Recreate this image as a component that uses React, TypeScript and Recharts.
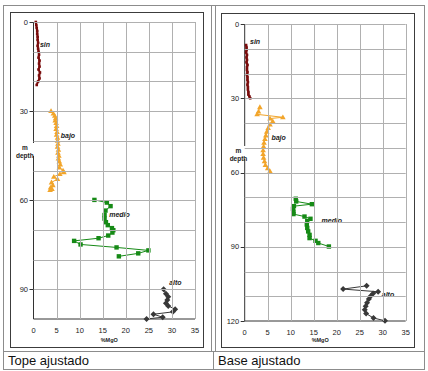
import React from 'react';
import { ScatterChart, Scatter, XAxis, YAxis } from 'recharts';

const FONT = '"Liberation Sans", Arial, Helvetica, sans-serif';

type Pair = [number, number]; // [%MgO, depth m]

const mgoTicks = [0, 5, 10, 15, 20, 25, 30, 35];
const topeDepthTicks = [0, 10, 20, 30, 40, 50, 60, 70, 80, 90, 100];
const baseDepthTicks = [0, 10, 20, 30, 40, 50, 60, 70, 80, 90, 100, 110, 120];
const labelledDepths = [0, 30, 60, 90, 120];

// Tope ajustado
const topeSin: Pair[] = [
  [0.5, 0], [0.6, 1], [0.7, 2], [0.8, 3], [0.8, 4], [0.9, 5], [0.9, 6], [1.0, 7], [0.9, 8], [1.0, 9], [1.1, 10],
  [1.2, 11], [1.1, 12], [1.3, 13], [1.2, 14], [1.3, 15], [1.1, 16], [1.4, 17], [1.2, 18], [1.3, 19], [1.0, 20], [0.7, 21.2],
];
const topeBajo: Pair[] = [
  [3.8, 30], [4.3, 30.8], [4.6, 31.6], [4.8, 32.4], [4.7, 33.2], [4.9, 34], [5.0, 35], [4.9, 36], [5.1, 37], [5.0, 38],
  [5.2, 39], [5.2, 40], [5.3, 41], [5.2, 42], [5.4, 43], [5.3, 44], [5.5, 45], [5.4, 46], [5.6, 47], [5.8, 48], [5.6, 49],
  [6.4, 50], [6.6, 50.6], [5.7, 51.2], [4.4, 52.1], [5.2, 52.9], [3.9, 54], [4.2, 55], [3.7, 55.7], [4.0, 56.2], [3.6, 56.6],
];
const topeMedio: Pair[] = [
  [13.2, 59.9], [15.9, 60.8], [16.7, 62], [15.6, 63.5], [15.4, 65], [15.4, 66.2], [15.7, 67.4], [16.1, 68.4], [17.0, 69.4],
  [17.3, 70.1], [17.1, 70.9], [16.2, 71.9], [14.1, 72.8], [8.8, 73.7], [10.2, 74.9], [18.0, 75.9], [24.9, 76.9], [22.7, 77.9], [18.5, 78.9],
];
const topeAlto: Pair[] = [
  [28.2, 90], [28.7, 91.5], [29.2, 92.5], [29.0, 93.6], [28.7, 94.7], [29.2, 95.6], [30.7, 96.7], [30.2, 97.6], [26.0, 98.4], [28.0, 99.4], [24.5, 100],
];

// Base ajustado
const baseSin: Pair[] = [
  [0.3, 8.5], [0.4, 9.5], [0.4, 10.5], [0.3, 11.5], [0.5, 12.5], [0.4, 13.5], [0.5, 14.5], [0.4, 15.5], [0.6, 16.5], [0.5, 17.5],
  [0.5, 18.5], [0.6, 19.5], [0.5, 20.5], [0.6, 21.5], [0.6, 22.5], [0.7, 23.5], [0.6, 24.5], [0.7, 25.5], [0.7, 26.5], [0.8, 27.5],
  [0.8, 28.5], [1.0, 29.2], [1.2, 30],
];
const baseBajo: Pair[] = [
  [3.3, 33.6], [3.0, 35.4], [2.7, 36.5], [8.3, 37.7], [5.5, 38.2], [6.1, 39.3], [5.5, 40.6], [5.1, 42], [4.8, 43.5], [4.6, 45],
  [4.4, 46.5], [4.2, 48], [4.1, 49.5], [4.0, 51], [4.0, 52.5], [4.1, 54], [4.3, 55.5], [4.5, 57], [5.0, 58.3], [5.5, 59.5],
];
const baseMedio: Pair[] = [
  [11.1, 70.6], [11.2, 71.7], [14.6, 72.8], [10.7, 73.6], [10.5, 74.7], [10.6, 75.8], [10.6, 76.8], [13.0, 77.8], [14.3, 78.7],
  [13.6, 79.6], [13.5, 81.0], [13.6, 82.4], [13.8, 83.8], [14.1, 85.2], [14.1, 86.5], [15.4, 87.6], [16.0, 88.5], [18.3, 89.9],
];
const baseAlto: Pair[] = [
  [26.5, 105.8], [21.4, 107.1], [29.0, 108.2], [27.9, 108.9], [27.4, 109.9], [27.0, 111.1], [26.6, 112.6], [26.3, 114.0],
  [26.1, 115.5], [26.4, 117.0], [28.0, 118.8], [30.5, 119.9],
];

// unit tags: [mgo, depth] of the text start / baseline
const topeTags: { text: string; at: Pair }[] = [
  { text: 'sin', at: [1.4, 8.3] },
  { text: 'bajo', at: [5.9, 39.2] },
  { text: 'medio', at: [16.4, 65.5] },
  { text: 'alto', at: [29.4, 88.7] },
];
const baseTags: { text: string; at: Pair }[] = [
  { text: 'sin', at: [1.15, 8.1] },
  { text: 'bajo', at: [5.8, 46.8] },
  { text: 'medio', at: [16.7, 80.5] },
  { text: 'alto', at: [29.8, 110.3] },
];

const COLORS = { sin: '#7a0c0c', bajo: '#f2a52a', medio: '#168a16', alto: '#383838' };
const GRID = '#b0b0b0';

const toPoints = (pairs: Pair[]) => pairs.map(([mgo, depth]) => ({ mgo, depth }));
const crisp = (v: number) => Math.round(v) + 0.5;

const squareMark = (size: number, color: string) => (p: any) => (
  <rect x={p.cx - size / 2} y={p.cy - size / 2} width={size} height={size} fill={color} />
);
const triangleMark = (color: string) => (p: any) => (
  <polygon points={`${p.cx},${p.cy - 2.8} ${p.cx + 2.8},${p.cy + 2} ${p.cx - 2.8},${p.cy + 2}`} fill={color} />
);
const diamondMark = (color: string) => (p: any) => (
  <polygon points={`${p.cx},${p.cy - 3} ${p.cx + 3},${p.cy} ${p.cx},${p.cy + 3} ${p.cx - 3},${p.cy}`} fill={color} />
);

const tagMark = (text: string) => (p: any) => (
  <text x={p.cx} y={p.cy} fontSize={7} fontStyle="italic" fontWeight="bold" fill="#222" stroke="none" fontFamily={FONT}>{text}</text>
);

interface PanelProps {
  left: number; top: number; width: number; height: number;
  plotLeft: number; plotTop: number; plotRight: number; plotBottom: number;
  maxDepth: number; depthTicks: number[];
  sin: Pair[]; bajo: Pair[]; medio: Pair[]; alto: Pair[];
  tags: { text: string; at: Pair }[];
  tickGap: number; unitGap: number;
  title: { x: number; y: number };
}

const Panel: React.FC<PanelProps> = (props) => {
  const { left, top, width, height, plotLeft, plotTop, plotRight, plotBottom } = props;
  const plotWidth = width - plotLeft - plotRight;
  const plotHeight = height - plotTop - plotBottom;
  const axisY = height - plotBottom;

  // each depth tick also draws its horizontal gridline across the plot
  const depthTick = (p: any) => {
    const v = p.payload.value;
    const labelled = labelledDepths.includes(v);
    const gy = crisp(p.y);
    return (
      <g>
        {v !== props.maxDepth && (
          <line x1={p.x} x2={p.x + plotWidth} y1={gy} y2={gy} stroke={GRID} strokeWidth={1} />
        )}
        {labelled && <line x1={p.x - 4} x2={p.x} y1={gy} y2={gy} stroke="#333" strokeWidth={1} />}
        {labelled && (
          <text x={p.x - 5.5} y={p.y + 2.7} textAnchor="end" fontSize={7.5} fill="#222" fontFamily={FONT}>{v}</text>
        )}
      </g>
    );
  };
  // each %MgO tick also draws its vertical gridline up the plot
  const mgoTick = (p: any) => {
    const gx = crisp(p.x);
    return (
      <g>
        {p.payload.value !== 0 && (
          <line x1={gx} x2={gx} y1={p.y} y2={p.y - plotHeight} stroke={GRID} strokeWidth={1} />
        )}
        <text x={p.x} y={p.y + props.tickGap} textAnchor="middle" fontSize={7.5} fill="#222" fontFamily={FONT}>{p.payload.value}</text>
      </g>
    );
  };
  const unitLabel = () => (
    <text x={plotLeft + plotWidth / 2 - 5} y={axisY + props.unitGap} textAnchor="middle" fontSize={5.5} fontWeight="bold" fill="#222" fontFamily={FONT}>%MgO</text>
  );
  const depthLabel = () => (
    <g>
      <rect x={props.title.x - 10} y={props.title.y - 5} width={20} height={13} fill="#fff" />
      <text x={props.title.x} y={props.title.y + 2} textAnchor="middle" fontSize={6.5} fontWeight="bold" fill="#222" fontFamily={FONT}>m</text>
      <text x={props.title.x} y={props.title.y + 10} textAnchor="middle" fontSize={6.5} fontWeight="bold" fill="#222" fontFamily={FONT}>depth</text>
    </g>
  );

  return (
    <>
      <div style={{ position: 'absolute', left, top, width, height, border: '1.5px solid #3c3c3c', boxSizing: 'border-box' }} />
      <div style={{ position: 'absolute', left, top }}>
        <ScatterChart width={width} height={height} margin={{ top: plotTop, right: plotRight, bottom: 0, left: 0 }}>
          <XAxis type="number" dataKey="mgo" domain={[0, 35]} ticks={mgoTicks} interval={0} height={plotBottom}
            tickSize={0} tickMargin={0} tickLine={false} axisLine={{ stroke: '#333' }} tick={mgoTick} label={unitLabel} />
          <YAxis type="number" dataKey="depth" domain={[0, props.maxDepth]} ticks={props.depthTicks} interval={0} reversed
            width={plotLeft} tickSize={0} tickMargin={0} tickLine={false} axisLine={{ stroke: '#333' }} tick={depthTick} label={depthLabel} />
          <Scatter data={toPoints(props.sin)} line={{ stroke: COLORS.sin, strokeWidth: 2 }} lineType="joint"
            shape={squareMark(2.6, COLORS.sin)} isAnimationActive={false} />
          <Scatter data={toPoints(props.bajo)} line={{ stroke: COLORS.bajo, strokeWidth: 1 }} lineType="joint"
            shape={triangleMark(COLORS.bajo)} isAnimationActive={false} />
          <Scatter data={toPoints(props.medio)} line={{ stroke: COLORS.medio, strokeWidth: 1 }} lineType="joint"
            shape={squareMark(4.4, COLORS.medio)} isAnimationActive={false} />
          <Scatter data={toPoints(props.alto)} line={{ stroke: COLORS.alto, strokeWidth: 1 }} lineType="joint"
            shape={diamondMark(COLORS.alto)} isAnimationActive={false} />
          {props.tags.map((t) => (
            <Scatter key={t.text} data={toPoints([t.at])} shape={tagMark(t.text)} isAnimationActive={false} />
          ))}
        </ScatterChart>
      </div>
    </>
  );
};

const App: React.FC = () => (
  <div style={{ position: 'absolute', left: 0, top: 0, width: 428, height: 371, background: '#fff', fontFamily: FONT }}>
    {/* table frame */}
    <div style={{ position: 'absolute', left: 3, top: 5, width: 422, height: 365, border: '1px solid #8c8c8c', boxSizing: 'border-box' }} />
    <div style={{ position: 'absolute', left: 211, top: 5, width: 1, height: 346, background: '#8c8c8c' }} />
    <div style={{ position: 'absolute', left: 215, top: 5, width: 1, height: 346, background: '#8c8c8c' }} />
    <div style={{ position: 'absolute', left: 213, top: 351, width: 1, height: 19, background: '#8c8c8c' }} />
    <div style={{ position: 'absolute', left: 3, top: 351, width: 422, height: 1, background: '#8c8c8c' }} />

    <Panel left={10} top={12} width={194} height={336} plotLeft={23.5} plotTop={10} plotRight={9} plotBottom={29}
      maxDepth={100} depthTicks={topeDepthTicks} sin={topeSin} bajo={topeBajo} medio={topeMedio} alto={topeAlto}
      tags={topeTags} tickGap={14} unitGap={22.8} title={{ x: 14.8, y: 136 }} />
    <Panel left={221} top={13} width={194} height={335} plotLeft={23.7} plotTop={11} plotRight={9.3} plotBottom={27}
      maxDepth={120} depthTicks={baseDepthTicks} sin={baseSin} bajo={baseBajo} medio={baseMedio} alto={baseAlto}
      tags={baseTags} tickGap={14.3} unitGap={20.8} title={{ x: 17.5, y: 138 }} />

    <div style={{ position: 'absolute', left: 8, top: 353, fontSize: 13, color: '#111', lineHeight: '16px' }}>Tope ajustado</div>
    <div style={{ position: 'absolute', left: 218, top: 353, fontSize: 13, color: '#111', lineHeight: '16px' }}>Base ajustado</div>
  </div>
);

export default App;
